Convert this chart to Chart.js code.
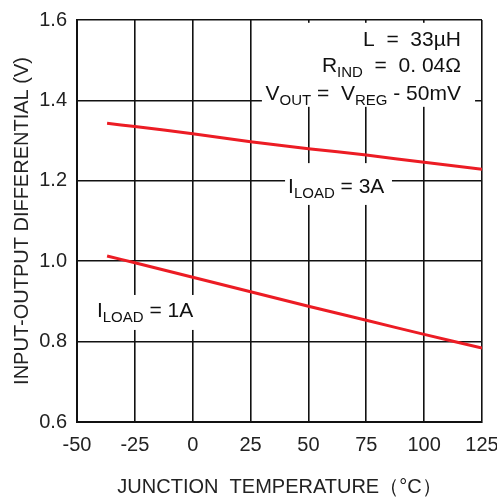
<!DOCTYPE html>
<html>
<head>
<meta charset="utf-8">
<script src="https://cdn.jsdelivr.net/npm/chart.js@4/dist/chart.umd.min.js"></script>
<style>
  html, body { margin: 0; padding: 0; background: #fff; }
  #wrap { width: 497px; height: 500px; }
</style>
</head>
<body>
<div id="wrap"><canvas id="myChart"></canvas></div>
<script>
// values
let temps = [-37, -25, 0, 25, 50, 75, 100, 125];
let diff3A = [1.343, 1.335, 1.317, 1.297, 1.28, 1.264, 1.246, 1.229];
let diff1A = [1.013, 0.996, 0.96, 0.924, 0.888, 0.853, 0.818, 0.784];
let xTicks = [-50, -25, 0, 25, 50, 75, 100, 125];
let yTicks = ['0.6', '0.8', '1.0', '1.2', '1.4', '1.6'];

let red = '#ec1c24';
let font = "'Liberation Sans', Arial, Helvetica, sans-serif";

function pts(xs, ys) {
    return xs.map((x, i) => ({x: x, y: ys[i]}));
}

// draws text with subscripts, parts = [[text, isSub], ...]
function richText(ctx, parts, x, y, align) {
    let big = '21px ' + font, small = '15px ' + font;
    let w = 0;
    parts.forEach(p => { ctx.font = p[1] ? small : big; w += ctx.measureText(p[0]).width; });
    let cx = align === 'right' ? x - w : x;
    ctx.fillStyle = '#111';
    ctx.textBaseline = 'alphabetic';
    ctx.textAlign = 'left';
    parts.forEach(p => {
        ctx.font = p[1] ? small : big;
        ctx.fillText(p[0], cx, p[1] ? y + 5 : y);
        cx += ctx.measureText(p[0]).width;
    });
}

function patch(ctx, xs, ys, x0, x1, y0, y1) {
    let l = xs.getPixelForValue(x0), r = xs.getPixelForValue(x1);
    let t = ys.getPixelForValue(y0), b = ys.getPixelForValue(y1);
    ctx.fillRect(l, t, r - l, b - t);
}

let notes = {
    id: 'notes',
    afterDraw(chart) {
        let ctx = chart.ctx;
        let xs = chart.scales.x, ys = chart.scales.y;
        ctx.save();
        // white patches under the labels
        ctx.fillStyle = '#fff';
        patch(ctx, xs, ys, 29.9, 122, 1.593, 1.384);
        patch(ctx, xs, ys, 39.9, 86.1, 1.244, 1.14);
        patch(ctx, xs, ys, -42.2, 3.1, 0.916, 0.829);

        let r = xs.getPixelForValue(115.9);
        richText(ctx, [['L  =  33µH', false]], r, ys.getPixelForValue(1.535), 'right');
        richText(ctx, [['R', false], ['IND', true], ['  =  0. 04Ω', false]], r, ys.getPixelForValue(1.471), 'right');
        richText(ctx, [['V', false], ['OUT', true], [' =  V', false], ['REG', true], [' - 50mV', false]], r, ys.getPixelForValue(1.401), 'right');
        richText(ctx, [['I', false], ['LOAD', true], [' = 3A', false]], xs.getPixelForValue(41.2), ys.getPixelForValue(1.17), 'left');
        richText(ctx, [['I', false], ['LOAD', true], [' = 1A', false]], xs.getPixelForValue(-41.4), ys.getPixelForValue(0.861), 'left');
        ctx.restore();
    }
};

let ctx = document.querySelector('#myChart').getContext('2d');
let myChart = new Chart(ctx, {
    type: 'line',
    data: {
        datasets: [{
            label: 'ILOAD = 3A',
            data: pts(temps, diff3A),
            borderColor: red,
            borderWidth: 3,
            pointRadius: 0,
            tension: 0.3
        }, {
            label: 'ILOAD = 1A',
            data: pts(temps, diff1A),
            borderColor: red,
            borderWidth: 3,
            pointRadius: 0,
            tension: 0.3
        }]
    },
    options: {
        responsive: true,
        maintainAspectRatio: false,
        animation: false,
        layout: { padding: { top: 20, right: 15, left: 0, bottom: 0 } },
        plugins: {
            legend: { display: false },
            tooltip: { enabled: false }
        },
        scales: {
            x: {
                type: 'linear',
                min: -50,
                max: 125,
                afterBuildTicks: s => { s.ticks = xTicks.map(v => ({value: v})); },
                afterFit: s => { s.height = 78; s.paddingLeft = 0; s.paddingRight = 0; },
                ticks: {
                    color: '#222',
                    font: { family: font, size: 20 },
                    padding: 11,
                    maxRotation: 0,
                    callback: v => String(v)
                },
                grid: { color: '#111', lineWidth: 1.6, drawTicks: false },
                border: { color: '#111', width: 2 },
                title: {
                    display: true,
                    text: 'JUNCTION  TEMPERATURE（°C）',
                    color: '#222',
                    font: { family: font, size: 20 },
                    padding: { top: 0, bottom: 1 }
                }
            },
            y: {
                type: 'linear',
                min: 0.6,
                max: 1.6,
                afterBuildTicks: s => { s.ticks = yTicks.map(v => ({value: parseFloat(v)})); },
                afterFit: s => { s.width = 77; s.paddingTop = 0; s.paddingBottom = 0; },
                ticks: {
                    color: '#222',
                    font: { family: font, size: 20 },
                    padding: 10,
                    callback: v => yTicks.find(t => parseFloat(t) === v) || ''
                },
                grid: { color: '#111', lineWidth: 1.6, drawTicks: false },
                border: { color: '#111', width: 2 },
                title: {
                    display: true,
                    text: 'INPUT-OUTPUT DIFFERENTIAL (V)',
                    color: '#222',
                    font: { family: font, size: 20 },
                    padding: { top: 10, bottom: 0 }
                }
            }
        }
    },
    plugins: [notes]
});
</script>
</body>
</html>
